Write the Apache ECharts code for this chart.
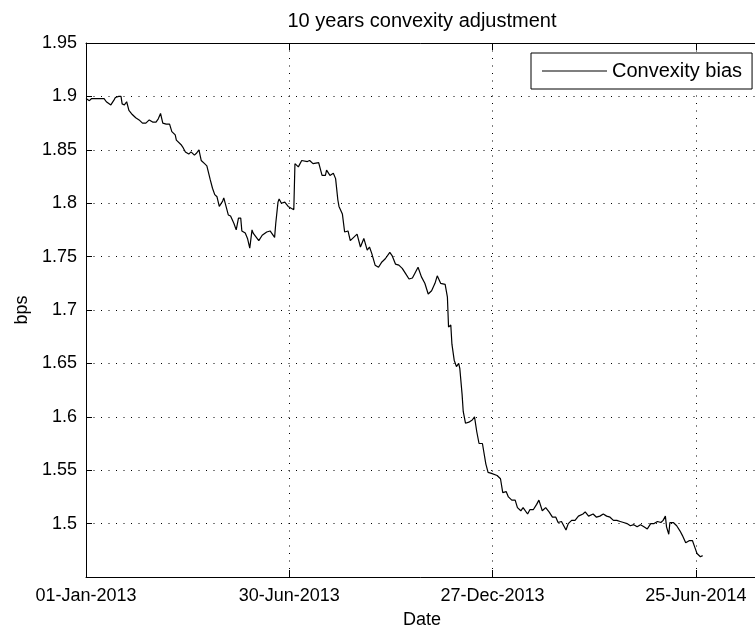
<!DOCTYPE html>
<html>
<head>
<meta charset="utf-8">
<title>10 years convexity adjustment</title>
<script src="https://cdn.jsdelivr.net/npm/echarts@6/dist/echarts.min.js"></script>
<style>
  html, body { margin: 0; padding: 0; background: #fff; }
  #chart { width: 755px; height: 630px; }
</style>
</head>
<body>
<div id="chart"></div>
<script>
// x values are days counted from 01-Jan-2013 (like a datenum axis)
const days = [
  0, 3, 5, 10, 16, 18, 22, 25, 26, 29, 31, 32, 34, 36, 38, 41, 44, 47, 50, 53,
  56, 59, 62, 64, 66, 68, 71, 74, 76, 79, 80, 84, 86, 88, 91, 93, 96, 98, 100, 102,
  105, 107, 110, 112, 114, 116, 118, 121, 122, 124, 126, 128, 131, 133, 135, 137, 138, 141, 143, 145,
  147, 148, 153, 156, 160, 163, 167, 168, 170, 171, 173, 176, 179, 182, 184, 185, 188, 191, 196, 198,
  201, 206, 209, 212, 213, 216, 219, 221, 223, 224, 227, 229, 232, 234, 237, 240, 243, 246, 249, 251,
  253, 256, 259, 262, 265, 269, 271, 274, 277, 280, 283, 286, 289, 291, 294, 297, 300, 303, 306, 309,
  311, 314, 318, 320, 321, 323, 324, 326, 328, 330, 331, 333, 334, 336, 339, 342, 344, 346, 348, 351,
  354, 356, 359, 364, 367, 369, 372, 374, 377, 380, 382, 385, 387, 391, 393, 396, 399, 401, 404, 407,
  410, 413, 416, 418, 421, 423, 425, 427, 430, 433, 436, 440, 442, 445, 449, 452, 455, 458, 461, 464,
  467, 470, 473, 476, 479, 482, 485, 488, 491, 494, 497, 500, 503, 506, 509, 511, 513, 514, 516, 517,
  520, 523, 526, 528, 531, 534, 537, 539, 541, 544, 546
];

const convexityBias = [
  1.898, 1.896, 1.898, 1.898, 1.898, 1.895, 1.892, 1.897, 1.899, 1.900, 1.900, 1.893, 1.892, 1.895, 1.887, 1.883, 1.880, 1.878, 1.875, 1.875,
  1.878, 1.876, 1.876, 1.879, 1.884, 1.875, 1.874, 1.874, 1.867, 1.864, 1.859, 1.855, 1.852, 1.848, 1.846, 1.848, 1.845, 1.847, 1.850, 1.840,
  1.837, 1.835, 1.822, 1.814, 1.808, 1.806, 1.797, 1.802, 1.805, 1.797, 1.789, 1.788, 1.781, 1.775, 1.786, 1.786, 1.774, 1.772, 1.767, 1.758,
  1.775, 1.772, 1.765, 1.770, 1.773, 1.774, 1.768, 1.781, 1.801, 1.804, 1.800, 1.801, 1.797, 1.795, 1.794, 1.837, 1.834, 1.840, 1.839, 1.840,
  1.837, 1.838, 1.826, 1.826, 1.831, 1.826, 1.828, 1.823, 1.803, 1.797, 1.790, 1.773, 1.774, 1.765, 1.768, 1.771, 1.759, 1.767, 1.756, 1.759,
  1.753, 1.742, 1.740, 1.745, 1.748, 1.754, 1.751, 1.743, 1.742, 1.739, 1.734, 1.729, 1.730, 1.734, 1.740, 1.731, 1.725, 1.715, 1.718, 1.725,
  1.732, 1.725, 1.724, 1.712, 1.684, 1.686, 1.668, 1.653, 1.647, 1.650, 1.645, 1.621, 1.605, 1.594, 1.595, 1.597, 1.600, 1.586, 1.575, 1.575,
  1.556, 1.548, 1.547, 1.545, 1.542, 1.529, 1.530, 1.525, 1.522, 1.522, 1.515, 1.512, 1.515, 1.509, 1.513, 1.513, 1.518, 1.522, 1.512, 1.515,
  1.511, 1.506, 1.506, 1.501, 1.502, 1.498, 1.494, 1.500, 1.503, 1.503, 1.507, 1.509, 1.511, 1.507, 1.509, 1.506, 1.507, 1.509, 1.507, 1.506,
  1.503, 1.503, 1.502, 1.501, 1.500, 1.498, 1.499, 1.497, 1.499, 1.497, 1.495, 1.500, 1.500, 1.502, 1.501, 1.503, 1.507, 1.497, 1.490, 1.501,
  1.501, 1.498, 1.493, 1.489, 1.482, 1.484, 1.484, 1.478, 1.472, 1.469, 1.470
];

// date ticks, one every 180 days
const dateTickLabels = ["01-Jan-2013", "30-Jun-2013", "27-Dec-2013", "25-Jun-2014"];
const dateTickStep = 180;

const FONT = "'Liberation Sans', Arial, sans-serif";
const dotted = { color: "#000", width: 1, type: [1, 6.5] };

const chart = echarts.init(document.getElementById("chart"), null, { renderer: "canvas" });

const option = {
  backgroundColor: "#fff",
  animation: false,
  title: {
    text: "10 years convexity adjustment",
    left: 422,
    top: 11,
    padding: 0,
    textAlign: "center",
    textStyle: { fontFamily: FONT, fontSize: 20, fontWeight: "normal", color: "#000" }
  },
  legend: {
    data: ["Convexity bias"],
    left: 531,
    top: 53,
    padding: [8, 10, 8, 11],
    icon: "rect",
    itemWidth: 65,
    itemHeight: 1,
    borderColor: "#000",
    borderWidth: 1,
    borderRadius: 0,
    backgroundColor: "#fff",
    selectedMode: false,
    textStyle: { fontFamily: FONT, fontSize: 20, color: "#000", padding: [0, 0, 0, 0] }
  },
  grid: {
    left: 86,
    top: 43,
    width: 672,
    height: 534,
    containLabel: false,
    outerBoundsMode: "none"
  },
  xAxis: [
    {
      type: "value",
      min: 0,
      max: 595,
      interval: dateTickStep,
      name: "Date",
      nameLocation: "middle",
      nameGap: 34,
      nameTextStyle: { fontFamily: FONT, fontSize: 18, color: "#000" },
      axisLine: { lineStyle: { color: "#000", width: 1 } },
      axisTick: { inside: true, length: 7, lineStyle: { color: "#000" } },
      axisLabel: {
        fontFamily: FONT,
        fontSize: 18,
        color: "#000",
        margin: 10,
        showMaxLabel: false,
        formatter: function (v) {
          const i = Math.round(v / dateTickStep);
          return Math.abs(v - i * dateTickStep) < 1e-6 && dateTickLabels[i] ? dateTickLabels[i] : "";
        }
      },
      splitLine: { show: true, lineStyle: dotted }
    },
    {
      type: "value",
      position: "top",
      min: 0,
      max: 595,
      interval: dateTickStep,
      axisLine: { lineStyle: { color: "#000", width: 1 } },
      axisTick: { inside: true, length: 7, lineStyle: { color: "#000" } },
      axisLabel: { show: false },
      splitLine: { show: false }
    }
  ],
  yAxis: {
    type: "value",
    min: 1.45,
    max: 1.95,
    interval: 0.05,
    name: "bps",
    nameLocation: "middle",
    nameGap: 54,
    nameTextStyle: { fontFamily: FONT, fontSize: 18, color: "#000" },
    axisLine: { show: true, lineStyle: { color: "#000", width: 1 } },
    axisTick: { show: true, inside: true, length: 6, lineStyle: { color: "#000" } },
    axisLabel: {
      fontFamily: FONT,
      fontSize: 18,
      color: "#000",
      margin: 9,
      showMinLabel: false,
      formatter: function (v) { return String(+v.toFixed(2)); }
    },
    splitLine: { show: true, lineStyle: dotted }
  },
  series: [
    {
      name: "Convexity bias",
      type: "line",
      xAxisIndex: 0,
      data: days.map((d, i) => [d, convexityBias[i]]),
      showSymbol: false,
      symbol: "none",
      lineStyle: { color: "#000", width: 1.2 },
      itemStyle: { color: "#000" },
      silent: true
    }
  ]
};

chart.setOption(option);
</script>
</body>
</html>
